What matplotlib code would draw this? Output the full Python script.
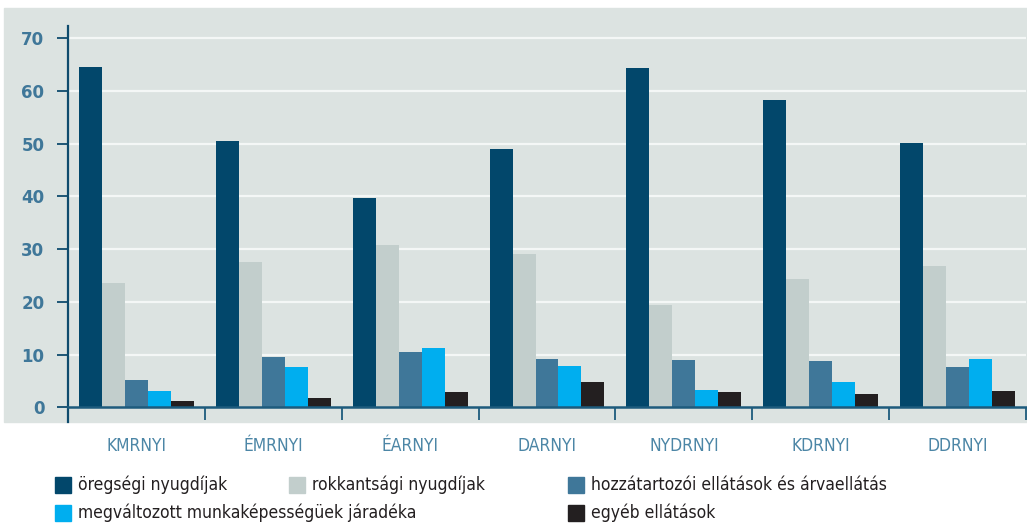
import matplotlib
matplotlib.use('Agg')
import matplotlib.pyplot as plt
import matplotlib.patches as mpatches
import numpy as np

# data
categories = ['KMRNYI', 'ÉMRNYI', 'ÉARNYI', 'DARNYI', 'NYDRNYI', 'KDRNYI', 'DDRNYI']
oregsegi = [64.5, 50.5, 39.7, 49.0, 64.4, 58.3, 50.1]
rokkantsagi = [23.6, 27.6, 30.8, 29.1, 19.4, 24.3, 26.8]
hozzatartozoi = [5.2, 9.5, 10.5, 9.2, 9.0, 8.8, 7.6]
megvaltozott = [3.1, 7.6, 11.3, 7.8, 3.3, 4.8, 9.2]
egyeb = [1.2, 1.8, 2.9, 4.8, 2.9, 2.5, 3.1]
series_names = ['öregségi nyugdíjak', 'rokkantsági nyugdíjak',
                'hozzátartozói ellátások és árvaellátás',
                'megváltozott munkaképességüek járadéka', 'egyéb ellátások']
yticks = [0, 10, 20, 30, 40, 50, 60, 70]

colors = ['#02476B', '#C2CECC', '#3F7799', '#00AEEF', '#231F20']
bg = '#DCE3E1'
narrow = dict(family='DejaVu Sans', stretch='condensed')

fig = plt.figure(figsize=(10.27, 5.27), dpi=100)
fig.patches.append(mpatches.Rectangle((4 / 1027, 1 - 422 / 527), 1, (422 - 8) / 527,
                                      transform=fig.transFigure, color=bg, zorder=-5))
ax = fig.add_axes([68 / 1027, 1 - 422 / 527, (1026 - 68) / 1027, (422 - 26) / 527])
ax.set_facecolor('none')

series = [oregsegi, rokkantsagi, hozzatartozoi, megvaltozott, egyeb]
x = np.arange(len(categories))
w = 0.168
for i, vals in enumerate(series):
    ax.bar(x + (i - 2) * w, vals, width=w, color=colors[i], zorder=3, linewidth=0)

ax.set_xlim(-0.5, len(categories) - 0.5)
ax.set_ylim(-2.8, 72.3)

# grid
for t in yticks[1:]:
    ax.axhline(t, color='#F4F7F6', lw=1.6, zorder=1)

for s in ['top', 'right']:
    ax.spines[s].set_visible(False)
ax.spines['left'].set_color('#0E4B6D')
ax.spines['left'].set_linewidth(1.6)
ax.spines['bottom'].set_position(('data', 0))
ax.spines['bottom'].set_color('#1D5B7D')
ax.spines['bottom'].set_linewidth(1.8)
ax.spines['bottom'].set_zorder(4)

ax.set_yticks(yticks)
ax.set_yticklabels([str(t) for t in yticks])
ax.tick_params(axis='y', length=8, width=1.3, color='#0E4B6D', pad=9,
               labelsize=12, labelcolor='#3F7799')
for lab in ax.get_yticklabels():
    lab.set_fontweight('bold')

ax.set_xticks(x)
ax.set_xticklabels(categories, fontsize=12.5, color='#4C86A6', **narrow)
ax.tick_params(axis='x', which='major', length=0, pad=21.5)
ax.set_xticks(np.arange(len(categories) + 1) - 0.5, minor=True)
ax.tick_params(axis='x', which='minor', length=9.5, width=1.3, color='#1D5B7D')

# legend, drawn by hand to follow the original layout
leg_pos = [(55, 485), (289, 485), (568, 485), (55, 513), (568, 513)]
for (px, py), name, c in zip(leg_pos, series_names, colors):
    fig.patches.append(mpatches.Rectangle((px / 1027, 1 - (py + 8) / 527), 16 / 1027, 16 / 527,
                                          transform=fig.transFigure, color=c))
    fig.text((px + 23) / 1027, 1 - py / 527, name, fontsize=12.5,
             color='#231F20', va='center', ha='left', **narrow)

plt.savefig('out.png', dpi=100)
plt.close()
